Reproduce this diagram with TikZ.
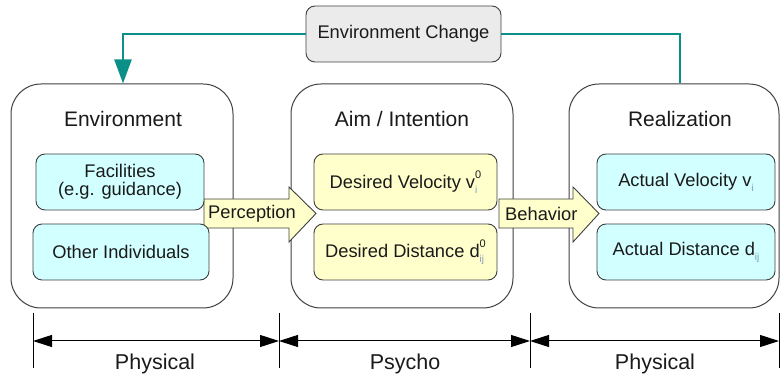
\documentclass[tikz,border=0pt]{standalone}
\usepackage{fontspec}
\setmainfont{Liberation Sans}
\usetikzlibrary{arrows.meta}
\definecolor{txt}{HTML}{1A1A1A}
\definecolor{edge}{HTML}{404040}
\definecolor{cyanfill}{HTML}{D2FFFF}
\definecolor{yelfill}{HTML}{FFFFCC}
\definecolor{grayfill}{HTML}{EBEBEB}
\definecolor{teal1}{HTML}{0A9088}
\definecolor{subc}{HTML}{7F9AB8}
\tikzset{
  bigbox/.style={draw=edge, line width=1pt, rounded corners=30pt, fill=white, minimum height=224pt, inner sep=0pt},
  title/.style={text=txt, font=\fontsize{21}{25}\selectfont, inner sep=0pt},
  inbox/.style={draw=edge, line width=0.9pt, rounded corners=9pt, minimum height=56pt, inner sep=0pt, text=txt, font=\fontsize{18.3}{21}\selectfont, align=center},
  cyanbox/.style={inbox, fill=cyanfill},
  yelbox/.style={inbox, fill=yelfill},
  blockarrow/.style={draw=edge, line width=0.9pt, fill=yelfill},
  flow/.style={draw=teal1, line width=2.3pt, -{Triangle[length=24pt,width=17pt]}},
  flowplain/.style={draw=teal1, line width=2.3pt},
  dim/.style={draw=black, line width=1pt, {Triangle[length=19pt,width=12pt]}-{Triangle[length=19pt,width=12pt]}},
  tick/.style={draw=black, line width=1pt},
  dimlabel/.style={text=txt, font=\fontsize{21.5}{25}\selectfont, inner sep=0pt},
  lbl/.style={text=txt, font=\fontsize{18.3}{21}\selectfont, inner sep=0pt}
}
\newcommand{\sbsp}[2]{\rlap{\raisebox{-0.5ex}{\fontsize{10}{11}\selectfont\color{subc}#1}}\raisebox{1.0ex}{\fontsize{11}{12}\selectfont #2}}
\newcommand{\sbonly}[1]{\raisebox{-0.5ex}{\fontsize{10}{11}\selectfont\color{subc}#1}}
\begin{document}
\begin{tikzpicture}[x=1pt,y=-1pt]
\useasboundingbox (0,0) rectangle (780,382);
% big boxes
\node[bigbox, minimum width=222pt] (env) at (122,196) {};
\node[bigbox, minimum width=222pt] (aim) at (402,196) {};
\node[bigbox, minimum width=210pt] (real) at (674,196) {};
\node[title] (envt) at (123,119) {Environment};
\node[title] (aimt) at (402,119) {Aim / Intention};
\node[title] (realt) at (680,119) {Realization};
% top box
\node[draw=edge, line width=0.9pt, rounded corners=9pt, fill=grayfill, minimum width=195pt, minimum height=56pt, inner sep=0pt, text=txt, font=\fontsize{18.3}{21}\selectfont] (ec) at (403.5,34) {Environment Change};
\draw[flow] (ec.west) -| ([xshift=1pt]env.north);
\draw[flowplain] (ec.east) -| ([xshift=6pt]real.north);
% block arrows (drawn before inner boxes)
\draw[blockarrow] (204,199) -- (289,199) -- (289,187) -- (316,213.5) -- (289,242) -- (289,228) -- (204,228) -- cycle;
\node[lbl, anchor=west] (perc) at (208,214) {Perception};
\draw[blockarrow] (499,199) -- (573,199) -- (573,187) -- (599,213.5) -- (573,242) -- (573,228) -- (499,228) -- cycle;
\node[lbl, anchor=west] (beh) at (505,214) {Behavior};
% inner boxes
\node[cyanbox, minimum width=168pt] (fac) at (120,182) {Facilities\\[-3pt](e.g. guidance)};
\node[cyanbox, minimum width=176pt] (oth) at (121,252) {Other Individuals};
\node[yelbox, minimum width=183pt] (dv) at (405.5,182) {Desired Velocity v\sbsp{i}{0}};
\node[yelbox, minimum width=183pt] (dd) at (405.5,252) {Desired Distance d\sbsp{ij}{0}};
\node[cyanbox, minimum width=178pt] (av) at (686,182) {Actual Velocity v\sbonly{i}};
\node[cyanbox, minimum width=178pt] (ad) at (686,252) {Actual Distance d\sbonly{ij}};
% dimension lines
\coordinate (t1) at (33,341);
\coordinate (t2) at (279,341);
\coordinate (t3) at (530,341);
\coordinate (t4) at (779,341);
\draw[tick] (33,313) -- (33,368);
\draw[tick] (279,313) -- (279,368);
\draw[tick] (530,313) -- (530,368);
\draw[tick] (779,313) -- (779,368);
\draw[dim] (t1) -- (t2);
\draw[dim] (t2) -- (t3);
\draw[dim] (t3) -- (t4);
\node[dimlabel] (l1) at (155,364) {Physical};
\node[dimlabel] (l2) at (405,364) {Psycho};
\node[dimlabel] (l3) at (655,364) {Physical};
\end{tikzpicture}
\end{document}
